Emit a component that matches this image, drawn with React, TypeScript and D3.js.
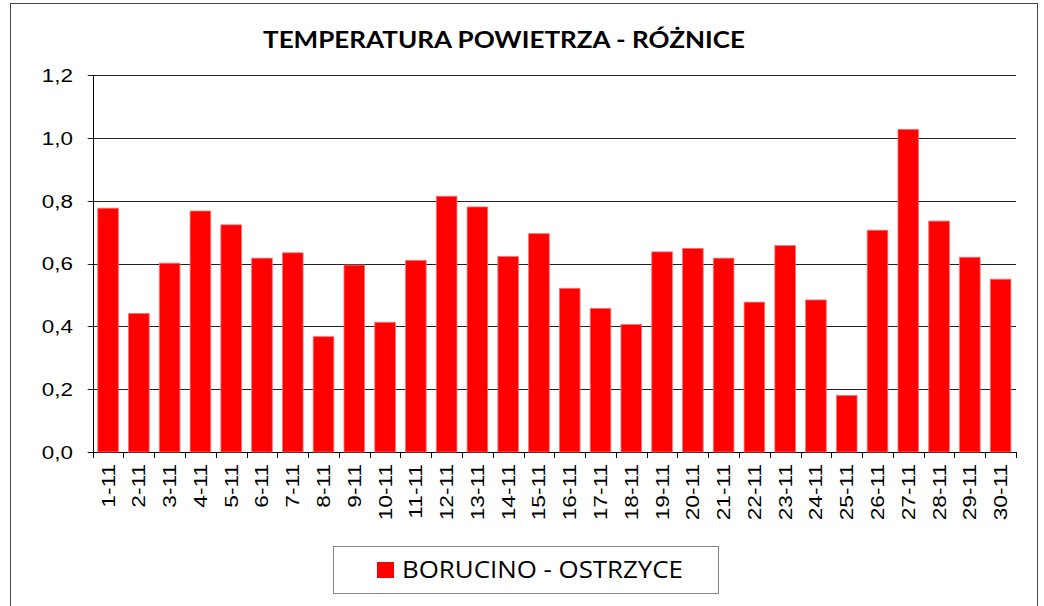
import React from "react";
import * as d3 from "d3";

const categories = ["1-11","2-11","3-11","4-11","5-11","6-11","7-11","8-11","9-11","10-11","11-11","12-11","13-11","14-11","15-11","16-11","17-11","18-11","19-11","20-11","21-11","22-11","23-11","24-11","25-11","26-11","27-11","28-11","29-11","30-11"];
const values = [0.776,0.441,0.601,0.767,0.723,0.617,0.634,0.367,0.595,0.413,0.610,0.814,0.780,0.622,0.695,0.521,0.457,0.406,0.637,0.648,0.617,0.477,0.657,0.484,0.180,0.706,1.027,0.735,0.620,0.550];
const yTicks = [0, 0.2, 0.4, 0.6, 0.8, 1.0, 1.2];
const title = "TEMPERATURA POWIETRZA - RÓŻNICE";
const seriesName = "BORUCINO - OSTRZYCE";

export default function App() {
  const W = 1044, H = 606;
  const left = 92.7, right = 1016, top = 75, bottom = 452;
  const x = d3.scaleBand<string>().domain(categories).range([left, right]).paddingInner(0.33).paddingOuter(0.165);
  const xb = d3.scaleBand<string>().domain(categories).range([left, right]);
  const y = d3.scaleLinear().domain([0, 1.2]).range([bottom, top]);
  const fmt = (v: number) => v.toFixed(1).replace(".", ",");
  const axisFont = "'Liberation Sans', Arial, Helvetica, sans-serif";
  return (
    <svg width={W} height={H} style={{ position: "fixed", left: 0, top: 0, background: "#fff" }}>
      <rect x={10.5} y={3.5} width={1027} height={610} fill="#fff" stroke="#444" strokeWidth={1} />
      <text x={504} y={48} textAnchor="middle" fontFamily="Lato, 'Open Sans', sans-serif" fontWeight="bold" fontSize={23} textLength={482} lengthAdjust="spacingAndGlyphs" fill="#000">{title}</text>
      {yTicks.map((t) => (
        <g key={t}>
          <line x1={left - 5} x2={right} y1={Math.round(y(t)) + 0.5} y2={Math.round(y(t)) + 0.5} stroke={t === 0 ? "#000" : "#222"} strokeWidth={1} />
          <text transform={`translate(73,${y(t)}) scale(1.18,1)`} dy="0.36em" textAnchor="end" fontFamily={axisFont} fontSize={19} fill="#000">{fmt(t)}</text>
        </g>
      ))}
      <line x1={Math.round(left) + 0.5} x2={Math.round(left) + 0.5} y1={top} y2={bottom} stroke="#000" strokeWidth={1} />
      {categories.map((c, i) => (
        <rect key={c} x={x(c)} y={y(values[i])} width={x.bandwidth()} height={bottom - y(values[i])} fill="#ff0000" stroke="#ff7070" strokeWidth={0.8} />
      ))}
      {[...categories.map((c) => xb(c) as number), right].map((tx, i) => (
        <line key={i} x1={Math.round(tx) + 0.5} x2={Math.round(tx) + 0.5} y1={bottom} y2={bottom + 6} stroke="#000" strokeWidth={1} />
      ))}
      {categories.map((c) => {
        const cx = (xb(c) as number) + xb.bandwidth() / 2;
        return (
          <text key={c} transform={`translate(${cx},${464}) rotate(-90) scale(1.26,1)`} dy="0.36em" textAnchor="end" fontFamily={axisFont} fontSize={18} fill="#000">{c}</text>
        );
      })}
      <rect x={333.5} y={546.5} width={385} height={47} fill="#fff" stroke="#888" strokeWidth={1} />
      <rect x={377} y={562} width={17} height={16} fill="#ff0000" />
      <text x={402} y={578} fontFamily="'Open Sans', sans-serif" fontSize={23} textLength={281} lengthAdjust="spacingAndGlyphs" fill="#000">{seriesName}</text>
    </svg>
  );
}
